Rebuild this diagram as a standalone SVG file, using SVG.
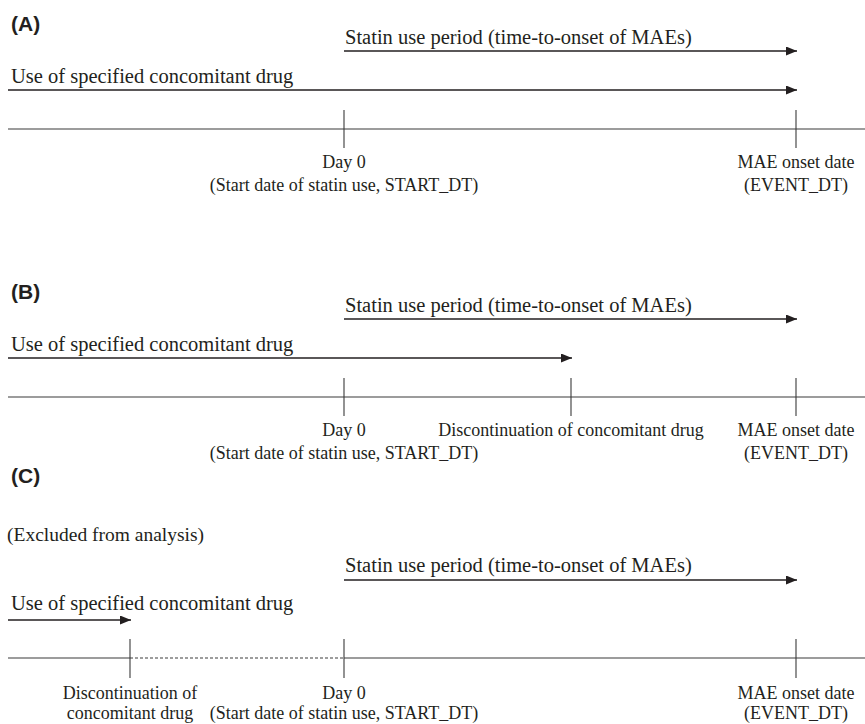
<svg xmlns="http://www.w3.org/2000/svg" width="865" height="724" viewBox="0 0 865 724">
<style>
.lab{font-family:"Liberation Sans",Arial,sans-serif;font-weight:bold;font-size:21px;fill:#231f20}
.big{font-family:"Liberation Serif","Times New Roman",serif;font-size:20.5px;fill:#231f20}
.sm{font-family:"Liberation Serif","Times New Roman",serif;font-size:18px;fill:#231f20;text-anchor:middle}
.arr{stroke:#231f20;stroke-width:1.6;fill:none;marker-end:url(#ah)}
.tl{stroke:#3a3a3a;stroke-width:1.2;fill:none}
.tick{stroke:#3a3a3a;stroke-width:1.1}
.dash{stroke:#3a3a3a;stroke-width:1;stroke-dasharray:3 2}
</style>
<defs>
<marker id="ah" markerWidth="11" markerHeight="9" refX="11" refY="4.5" orient="auto" markerUnits="userSpaceOnUse">
<path d="M0,0 L11,4.5 L0,9 Z" fill="#231f20"/>
</marker>
</defs>
<g id="panelA">
<text class="lab" x="11" y="31">(A)</text>
<text class="big" x="345" y="44">Statin use period (time-to-onset of MAEs)</text>
<text class="big" x="11" y="83">Use of specified concomitant drug</text>
<g id="A-connectors">
<line class="arr" x1="344" y1="51" x2="797" y2="51"/>
<line class="arr" x1="8" y1="90" x2="797" y2="90"/>
<line class="tl" x1="8" y1="129" x2="865" y2="129"/>
<line class="tick" x1="344" y1="110" x2="344" y2="148"/>
<line class="tick" x1="796" y1="110" x2="796" y2="148"/>
</g>
<text class="sm" x="344" y="168">Day 0</text>
<text class="sm" x="344" y="191">(Start date of statin use, START_DT)</text>
<text class="sm" x="796" y="168">MAE onset date</text>
<text class="sm" x="796" y="191">(EVENT_DT)</text>
</g>
<g id="panelB">
<text class="lab" x="11" y="299">(B)</text>
<text class="big" x="345" y="312">Statin use period (time-to-onset of MAEs)</text>
<text class="big" x="11" y="351">Use of specified concomitant drug</text>
<g id="B-connectors">
<line class="arr" x1="344" y1="319" x2="797" y2="319"/>
<line class="arr" x1="8" y1="358" x2="572" y2="358"/>
<line class="tl" x1="8" y1="397" x2="865" y2="397"/>
<line class="tick" x1="344" y1="378" x2="344" y2="416"/>
<line class="tick" x1="571" y1="378" x2="571" y2="416"/>
<line class="tick" x1="796" y1="378" x2="796" y2="416"/>
</g>
<text class="sm" x="344" y="436">Day 0</text>
<text class="sm" x="344" y="459">(Start date of statin use, START_DT)</text>
<text class="sm" x="571" y="436">Discontinuation of concomitant drug</text>
<text class="sm" x="796" y="436">MAE onset date</text>
<text class="sm" x="796" y="459">(EVENT_DT)</text>
</g>
<g id="panelC">
<text class="lab" x="11" y="483">(C)</text>
<text class="big" x="7" y="541" style="font-size:19.5px">(Excluded from analysis)</text>
<text class="big" x="345" y="572">Statin use period (time-to-onset of MAEs)</text>
<text class="big" x="11" y="610">Use of specified concomitant drug</text>
<g id="C-connectors">
<line class="arr" x1="344" y1="580" x2="797" y2="580"/>
<line class="arr" x1="8" y1="620" x2="131" y2="620"/>
<line class="tl" x1="8" y1="658" x2="130" y2="658"/>
<line class="dash" x1="130" y1="658" x2="344" y2="658"/>
<line class="tl" x1="344" y1="658" x2="865" y2="658"/>
<line class="tick" x1="130" y1="639" x2="130" y2="678"/>
<line class="tick" x1="344" y1="639" x2="344" y2="678"/>
<line class="tick" x1="796" y1="639" x2="796" y2="678"/>
</g>
<text class="sm" x="130" y="699">Discontinuation of</text>
<text class="sm" x="130" y="719">concomitant drug</text>
<text class="sm" x="344" y="699">Day 0</text>
<text class="sm" x="344" y="719">(Start date of statin use, START_DT)</text>
<text class="sm" x="796" y="699">MAE onset date</text>
<text class="sm" x="796" y="719">(EVENT_DT)</text>
</g>
</svg>
